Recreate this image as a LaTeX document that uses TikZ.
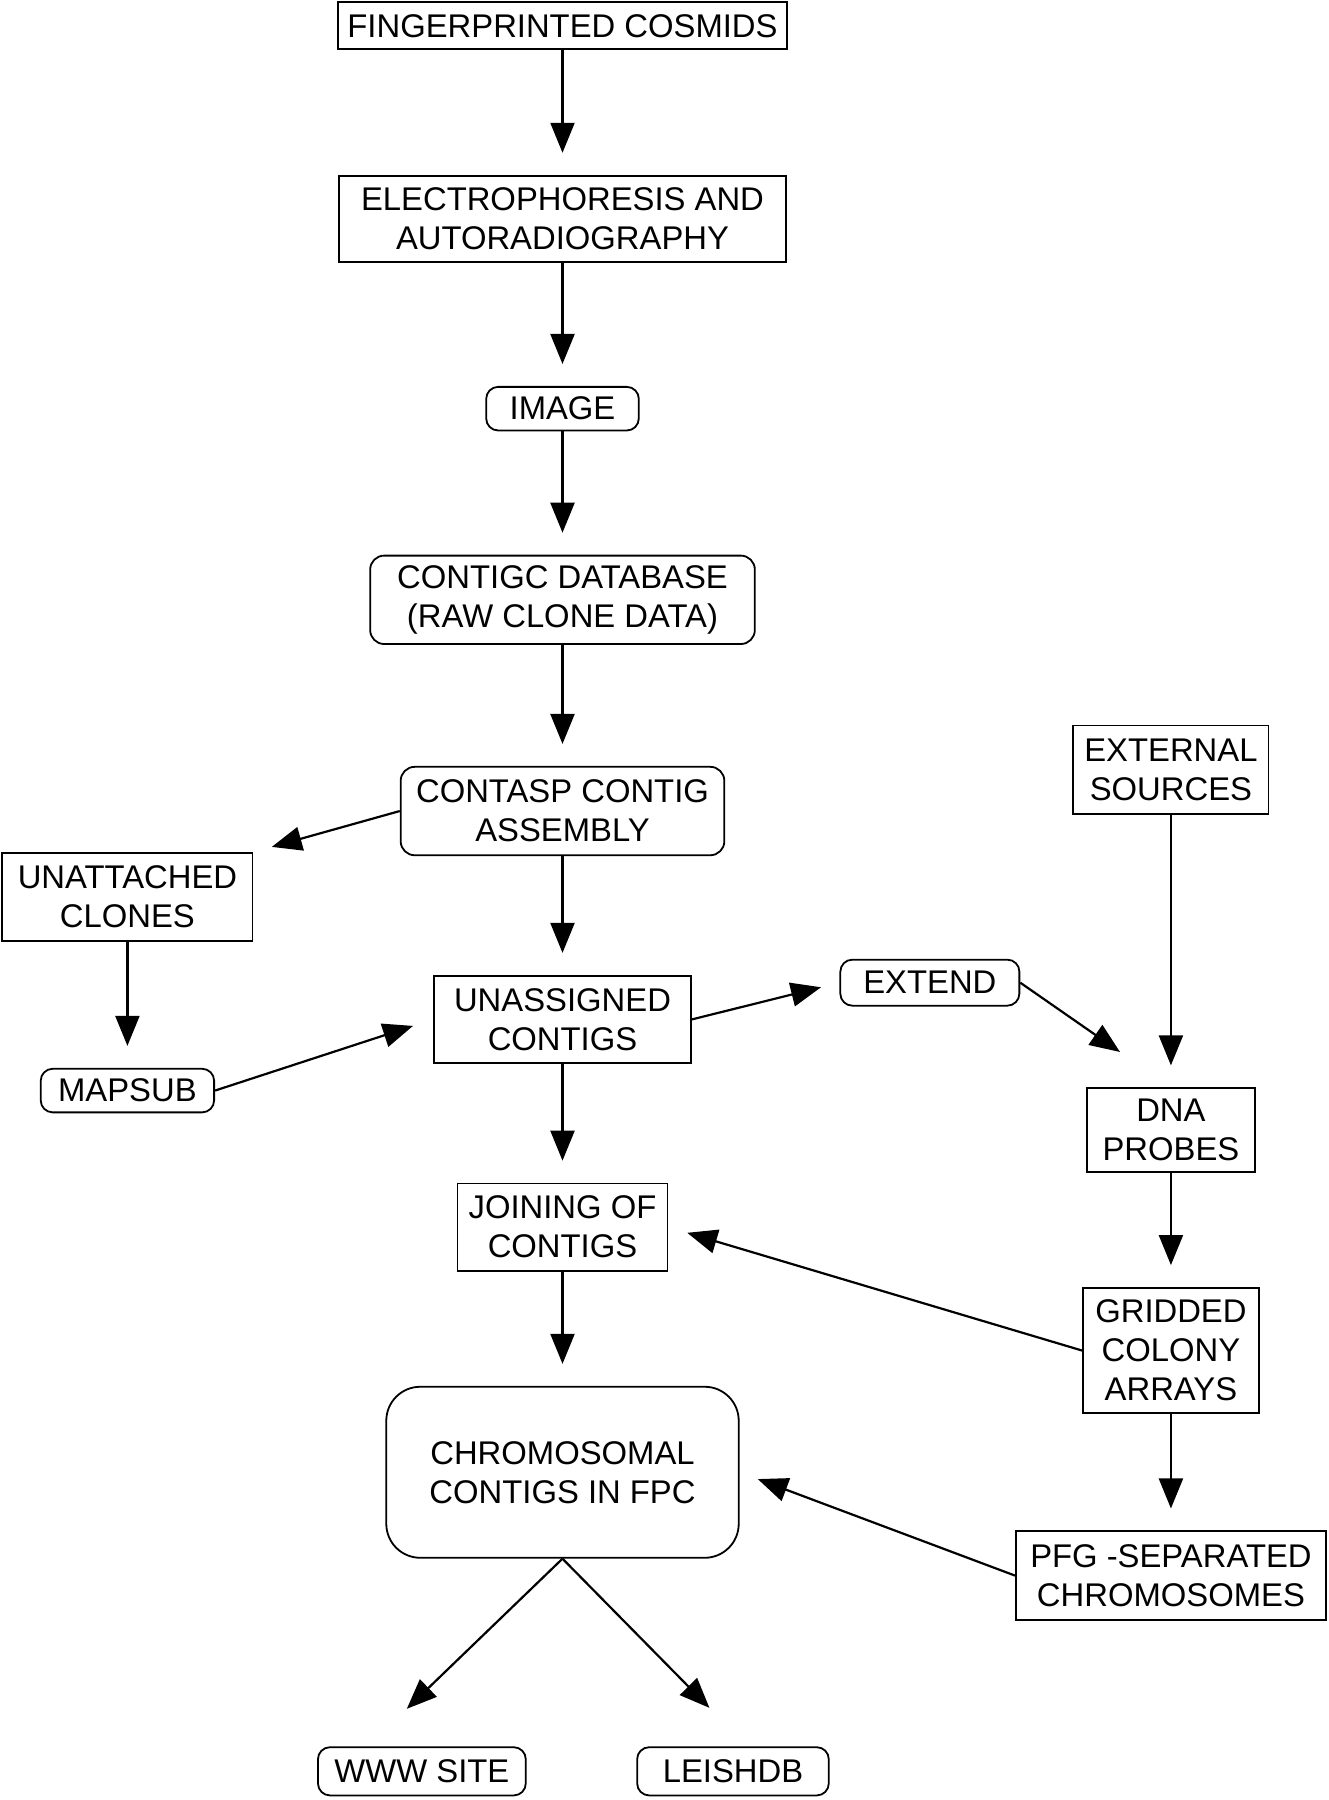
\documentclass[tikz,border=0pt]{standalone}
\usepackage{fontspec}
\setmainfont{Liberation Sans}
\usetikzlibrary{arrows.meta, calc}

\begin{document}
\begin{tikzpicture}[x=0.5739pt, y=-0.5739pt, >={Triangle[length=15pt, width=12pt]},
    font=\fontsize{16.4}{19.5}\selectfont,
    sqbox/.style={draw, line width=0.9pt, inner sep=0pt, align=center},
    rndbox/.style={sqbox, rounded corners=6pt},
    flow/.style={->, line width=1.1pt, shorten >=11pt}]
  \useasboundingbox (0,0) rectangle (1157,1568);
  % main column
  \node[sqbox, minimum width=224.4pt, minimum height=23.5pt] (cos) at (490,22.5) {FINGERPRINTED COSMIDS};
  \node[sqbox, minimum width=223.8pt, minimum height=43pt] (elec) at (490,190.5) {ELECTROPHORESIS AND\\AUTORADIOGRAPHY};
  \node[rndbox, minimum width=76.3pt, minimum height=21.8pt] (img) at (490,356) {IMAGE};
  \node[rndbox, rounded corners=7pt, minimum width=192.3pt, minimum height=44.2pt] (db) at (490,522.5) {CONTIGC DATABASE\\(RAW CLONE DATA)};
  \node[rndbox, rounded corners=7pt, minimum width=161.8pt, minimum height=44.2pt] (asm) at (490,706.5) {CONTASP CONTIG\\ASSEMBLY};
  \node[sqbox, minimum width=128.6pt, minimum height=43.6pt] (unas) at (490,888) {UNASSIGNED\\CONTIGS};
  \node[sqbox, minimum width=105pt, minimum height=43.6pt] (join) at (490,1069) {JOINING OF\\CONTIGS};
  \node[rndbox, rounded corners=17pt, minimum width=176.2pt, minimum height=85.5pt] (chrom) at (490,1282.5) {CHROMOSOMAL\\CONTIGS IN FPC};
  \node[rndbox, minimum width=103.9pt, minimum height=24.1pt] (www) at (367.5,1543) {WWW SITE};
  \node[rndbox, minimum width=95.8pt, minimum height=24.1pt] (leish) at (638.5,1543) {LEISHDB};
  % left side
  \node[sqbox, minimum width=125.1pt, minimum height=44.2pt] (unat) at (111,781.5) {UNATTACHED\\CLONES};
  \node[rndbox, minimum width=86.7pt, minimum height=21.8pt] (mapsub) at (111,950) {MAPSUB};
  % right side
  \node[rndbox, minimum width=89.5pt, minimum height=23pt] (extd) at (810,856) {EXTEND};
  \node[sqbox, minimum width=97.6pt, minimum height=44.2pt] (ext) at (1020,670.5) {EXTERNAL\\SOURCES};
  \node[sqbox, minimum width=83.8pt, minimum height=41.9pt] (dna) at (1020,984.5) {DNA\\PROBES};
  \node[sqbox, minimum width=87.8pt, minimum height=62.6pt] (grid) at (1020,1176.5) {GRIDDED\\COLONY\\ARRAYS};
  \node[sqbox, minimum width=155pt, minimum height=44.2pt] (pfg) at (1020,1372.5) {PFG -SEPARATED\\CHROMOSOMES};
  % connectors
  \draw[flow] (cos) -- (elec);
  \draw[flow] (elec) -- (img);
  \draw[flow] (img) -- (db);
  \draw[flow] (db) -- (asm);
  \draw[flow] (asm) -- (unas);
  \draw[flow] (unas) -- (join);
  \draw[flow] (join) -- (chrom);
  \draw[flow, shorten >=9.5pt] (asm.west) -- (unat.north east);
  \draw[flow] (unat) -- (mapsub);
  \draw[flow, shorten >=10.5pt] (mapsub.east) -- (unas.west);
  \draw[flow, shorten >=9.5pt] (unas.east) -- (extd.west);
  \draw[flow, shorten >=31pt] (extd.east) -- (dna.north);
  \draw[flow] (ext) -- (dna);
  \draw[flow] (dna) -- (grid);
  \draw[flow] (grid) -- (pfg);
  \draw[flow, shorten >=9.8pt] (grid.west) -- (join.east);
  \draw[flow, shorten >=9.7pt] (pfg.west) -- (chrom.east);
  \draw[flow, shorten >=27pt] (chrom.south) -- ($(www.north)+(-47,0)$);
  \draw[flow, shorten >=27pt] (chrom.south) -- ($(leish.north)+(12.5,0)$);
\end{tikzpicture}
\end{document}
